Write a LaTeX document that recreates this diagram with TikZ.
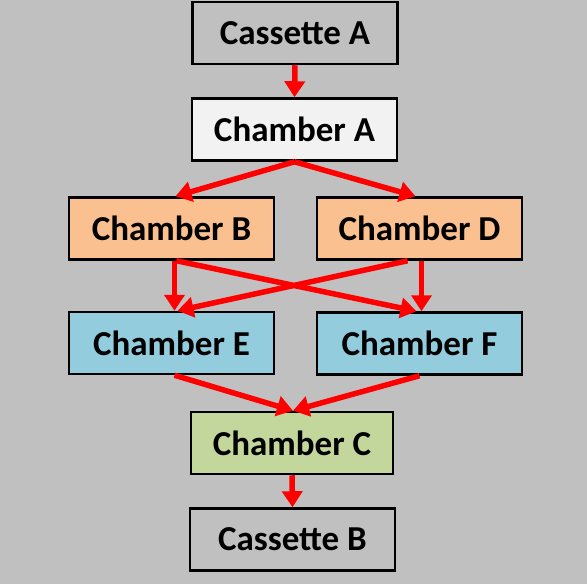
\documentclass[tikz,border=0pt]{standalone}
\usepackage{fontspec}
\setmainfont{Carlito}
\usetikzlibrary{arrows.meta}

\definecolor{bggray}{HTML}{C0C0C0}
\definecolor{lightw}{HTML}{F2F2F2}
\definecolor{peach}{HTML}{FAC090}
\definecolor{skyb}{HTML}{93CDDD}
\definecolor{olive}{HTML}{C3D69B}

\tikzset{
    box/.style={draw=black, line width=2.5pt, minimum width=205pt, minimum height=62pt,
        inner sep=0pt, font=\fontsize{35}{40}\selectfont\bfseries},
    flow/.style={draw=red, line width=5.5pt, -{Triangle[width=20pt,length=16pt]}}
}

\begin{document}
\begin{tikzpicture}[x=1pt,y=-1pt]
        \fill[bggray] (0,0) rectangle (587,584);
        \useasboundingbox (0,0) rectangle (587,584);

        \node[box, fill=bggray] (casA) at (295,33) {Cassette A};
        \node[box, fill=lightw] (chA) at (294.5,129.5) {Chamber A};
        \node[box, fill=peach] (chB) at (171.5,228.5) {Chamber B};
        \node[box, fill=peach] (chD) at (419.5,228.5) {Chamber D};
        \node[box, fill=skyb] (chE) at (171.5,343) {Chamber E};
        \node[box, fill=skyb] (chF) at (419.5,343.5) {Chamber F};
        \node[box, fill=olive, minimum width=202pt] (chC) at (292,443) {Chamber C};
        \node[box, fill=bggray] (casB) at (292.5,539.5) {Cassette B};

        \draw[flow] (casA.south) -- (chA.north);
        \draw[flow] (chA.south) -- ([xshift=4pt]chB.north);
        \draw[flow] (chA.south) -- ([xshift=-4pt]chD.north);
        \draw[flow] ([xshift=3pt]chB.south) -- ([xshift=3pt]chE.north);
        \draw[flow] ([xshift=5pt]chB.south) -- ([xshift=-3pt]chF.north);
        \draw[flow] ([xshift=-12pt]chD.south) -- ([xshift=6pt]chE.north);
        \draw[flow] ([xshift=2pt]chD.south) -- ([xshift=2pt]chF.north);
        \draw[flow] ([xshift=3pt]chE.south) -- ([xshift=1pt]chC.north);
        \draw[flow] ([xshift=0pt]chF.south) -- ([xshift=1pt]chC.north);
        \draw[flow] (chC.south) -- (casB.north);

    \end{tikzpicture}
\end{document}
